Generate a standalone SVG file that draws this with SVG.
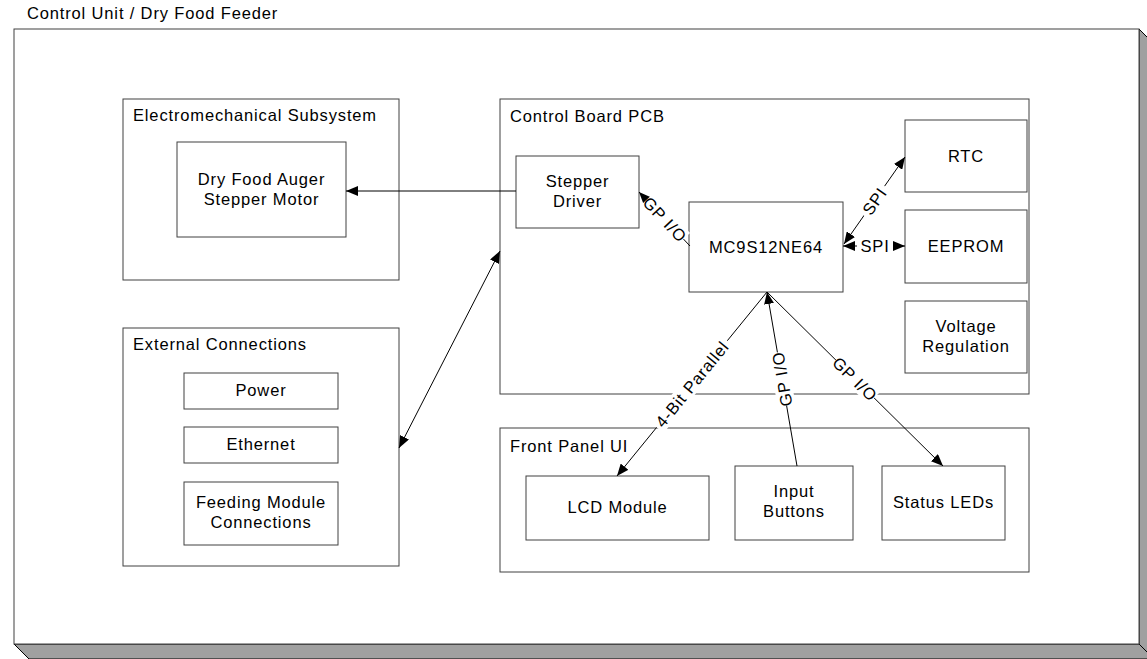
<svg xmlns="http://www.w3.org/2000/svg" width="1147" height="659" viewBox="0 0 1147 659">
<defs>
<style>
.box{fill:#fff;stroke:#404040;stroke-width:1}
.t{font-family:"Liberation Sans",Arial,sans-serif;font-size:16.5px;letter-spacing:0.85px;fill:#000}
.c{text-anchor:middle}
.ln{stroke:#000;stroke-width:1;fill:none}
.lb{fill:#fff;stroke:none}
</style>
<marker id="ah" viewBox="0 0 12 10" refX="12" refY="5" markerWidth="12" markerHeight="10" markerUnits="userSpaceOnUse" orient="auto-start-reverse">
<path d="M0,0 L12,5 L0,10 Z" fill="#000"/>
</marker>
</defs>
<rect width="1147" height="659" fill="#fff"/>
<g id="outer">
<polygon points="1139,29 1154,44 1154,659 1139,644" fill="#a0a0a0" stroke="#000" stroke-width="1"/>
<polygon points="14,644 1139,644 1154,659 29,659" fill="#a0a0a0" stroke="#000" stroke-width="1"/>
<rect x="14" y="29" width="1125" height="615" fill="#fff" stroke="#404040"/>
<text class="t" x="27" y="19">Control Unit / Dry Food Feeder</text>
</g>
<g id="electromech">
<rect class="box" x="123" y="99" width="276" height="181"/>
<text class="t" x="133" y="121">Electromechanical Subsystem</text>
</g>
<g id="auger">
<rect class="box" x="177" y="142" width="169" height="95"/>
<text class="t c" x="261.5" y="185">Dry Food Auger</text>
<text class="t c" x="261.5" y="205">Stepper Motor</text>
</g>
<g id="external">
<rect class="box" x="123" y="328" width="276" height="238"/>
<text class="t" x="133" y="350">External Connections</text>
</g>
<g id="power">
<rect class="box" x="184" y="373" width="154" height="36"/>
<text class="t c" x="261" y="396">Power</text>
</g>
<g id="ethernet">
<rect class="box" x="184" y="427" width="154" height="36"/>
<text class="t c" x="261" y="450">Ethernet</text>
</g>
<g id="feeding">
<rect class="box" x="184" y="482" width="154" height="63"/>
<text class="t c" x="261" y="508">Feeding Module</text>
<text class="t c" x="261" y="528">Connections</text>
</g>
<g id="controlboard">
<rect class="box" x="500" y="99" width="529" height="295"/>
<text class="t" x="510" y="122">Control Board PCB</text>
</g>
<g id="stepperdriver">
<rect class="box" x="516" y="156" width="123" height="72"/>
<text class="t c" x="577.5" y="187">Stepper</text>
<text class="t c" x="577.5" y="207">Driver</text>
</g>
<g id="mcu">
<rect class="box" x="689" y="202" width="154" height="90"/>
<text class="t c" x="766" y="253">MC9S12NE64</text>
</g>
<g id="rtc">
<rect class="box" x="905" y="120" width="122" height="72"/>
<text class="t c" x="966" y="162">RTC</text>
</g>
<g id="eeprom">
<rect class="box" x="905" y="210" width="122" height="73"/>
<text class="t c" x="966" y="252">EEPROM</text>
</g>
<g id="voltage">
<rect class="box" x="905" y="301" width="122" height="72"/>
<text class="t c" x="966" y="332">Voltage</text>
<text class="t c" x="966" y="352">Regulation</text>
</g>
<g id="frontpanel">
<rect class="box" x="500" y="428" width="529" height="144"/>
<text class="t" x="510" y="452">Front Panel UI</text>
</g>
<g id="lcd">
<rect class="box" x="526" y="476" width="183" height="64"/>
<text class="t c" x="617.5" y="513">LCD Module</text>
</g>
<g id="buttons">
<rect class="box" x="735" y="466" width="118" height="74"/>
<text class="t c" x="794" y="497">Input</text>
<text class="t c" x="794" y="517">Buttons</text>
</g>
<g id="leds">
<rect class="box" x="882" y="466" width="123" height="74"/>
<text class="t c" x="943.5" y="508">Status LEDs</text>
</g>
<g id="connectors">
<line class="ln" x1="516" y1="191" x2="346" y2="191" marker-end="url(#ah)"/>
<line class="ln" x1="690" y1="246" x2="639" y2="192" marker-end="url(#ah)"/>
<line class="ln" x1="843" y1="246" x2="905" y2="246" marker-start="url(#ah)" marker-end="url(#ah)"/>
<line class="ln" x1="844" y1="244" x2="905" y2="157" marker-start="url(#ah)" marker-end="url(#ah)"/>
<line class="ln" x1="399" y1="448" x2="500" y2="251" marker-start="url(#ah)" marker-end="url(#ah)"/>
<line class="ln" x1="767" y1="292" x2="617" y2="476" marker-end="url(#ah)"/>
<line class="ln" x1="797" y1="466" x2="767" y2="292" marker-end="url(#ah)"/>
<line class="ln" x1="767" y1="292" x2="943" y2="466" marker-end="url(#ah)"/>
<g transform="translate(665,219.5) rotate(46.7)">
<rect class="lb" x="-27" y="-9" width="54" height="18"/>
<text class="t c" x="0" y="6">GP I/O</text>
</g>
<g transform="translate(875,246)">
<rect class="lb" x="-18" y="-9" width="36" height="18"/>
<text class="t c" x="0" y="6">SPI</text>
</g>
<g transform="translate(874.5,201) rotate(-55)">
<rect class="lb" x="-18" y="-9" width="36" height="18"/>
<text class="t c" x="0" y="6">SPI</text>
</g>
<g transform="translate(692,384) rotate(-50.8)">
<rect class="lb" x="-56" y="-9" width="112" height="18"/>
<text class="t c" x="0" y="6">4-Bit Parallel</text>
</g>
<g transform="translate(782,379) rotate(-99.8)">
<rect class="lb" x="-27" y="-9" width="54" height="18"/>
<text class="t c" x="0" y="6">GP I/O</text>
</g>
<g transform="translate(855,379) rotate(44.6)">
<rect class="lb" x="-27" y="-9" width="54" height="18"/>
<text class="t c" x="0" y="6">GP I/O</text>
</g>
</g>
</svg>
